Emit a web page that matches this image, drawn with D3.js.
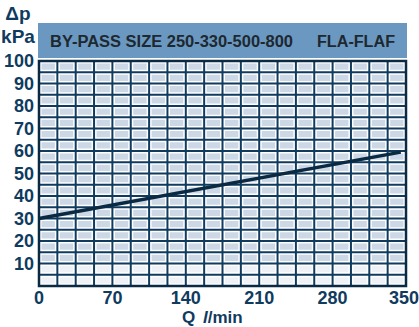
<!DOCTYPE html>
<html><head><meta charset="utf-8">
<script src="https://cdn.jsdelivr.net/npm/d3@7"></script>
<style>body{margin:0;background:#fff}svg{display:block}</style>
</head><body>
<script>
const xTicks = [0, 70, 140, 210, 280, 350];
const yTicks = [10, 20, 30, 40, 50, 60, 70, 80, 90, 100];
const lineQ = [0, 345];
const lineDp = [30, 59.5];
const title = "BY-PASS SIZE 250-330-500-800";
const model = "FLA-FLAF";

const W = 419, H = 327;
const m = {l: 39, r: 13, t: 61, b: 41};
const svg = d3.select("body").append("svg").attr("width", W).attr("height", H);
const x = d3.scaleLinear().domain([0, 350]).range([m.l, W - m.r]);
const y = d3.scaleLinear().domain([0, 100]).range([H - m.b, m.t]);
const font = "'Liberation Sans Narrow','Liberation Sans',Arial,sans-serif";
const navy = "#0f3b5f";

// header band
svg.append("rect").attr("x", 38).attr("y", 23).attr("width", 369).attr("height", 35).attr("fill", "#6b98c0");
svg.append("text").attr("x", 50).attr("y", 47).text(title)
  .attr("textLength", 243).attr("lengthAdjust", "spacingAndGlyphs")
  .attr("font-family", "'Liberation Sans',Arial,sans-serif").attr("font-weight", "bold").attr("font-size", 16).attr("fill", "#1e2830");
svg.append("text").attr("x", 317).attr("y", 47).text(model)
  .attr("textLength", 78).attr("lengthAdjust", "spacingAndGlyphs")
  .attr("font-family", "'Liberation Sans',Arial,sans-serif").attr("font-weight", "bold").attr("font-size", 16).attr("fill", "#1e2830");

// grid cells
const xs = d3.range(0, 350, 17.5), ys = d3.range(0, 100, 5);
const cells = [];
xs.forEach(a => ys.forEach(b => cells.push([a, b])));
svg.append("g").selectAll("rect").data(cells).join("rect")
  .attr("x", d => x(d[0]) + 2.5).attr("y", d => y(d[1] + 5) + 2.5)
  .attr("width", d => x(d[0] + 17.5) - x(d[0]) - 5).attr("height", d => y(d[1]) - y(d[1] + 5) - 5)
  .attr("fill", d => d[1] < 10 ? "#eef2f7" : "#cdd8e6");

// grid lines
const g = svg.append("g");
g.selectAll(".v").data(d3.range(0, 350.1, 17.5)).join("line")
  .attr("x1", d => x(d)).attr("x2", d => x(d)).attr("y1", y(100)).attr("y2", y(0))
  .attr("stroke", navy).attr("stroke-width", 2);
g.selectAll(".h").data(d3.range(0, 100.1, 5)).join("line")
  .attr("y1", d => y(d)).attr("y2", d => y(d)).attr("x1", x(0)).attr("x2", x(350))
  .attr("stroke", navy).attr("stroke-width", 2);
svg.append("rect").attr("x", x(0)).attr("y", y(100)).attr("width", x(350) - x(0)).attr("height", y(0) - y(100))
  .attr("fill", "none").attr("stroke", "#0a2a44").attr("stroke-width", 2.5);

// axes labels
svg.append("g").selectAll("text").data(yTicks).join("text")
  .attr("x", 34).attr("y", d => y(d) + 6).attr("text-anchor", "end").text(d => d)
  .attr("font-family", font).attr("font-weight", "bold").attr("font-size", 18).attr("fill", navy);
svg.append("g").selectAll("text").data(xTicks).join("text")
  .attr("x", d => Math.min(x(d), 404)).attr("y", 304).attr("text-anchor", "middle").text(d => d)
  .attr("font-family", font).attr("font-weight", "bold").attr("font-size", 18).attr("fill", navy);

svg.append("text").attr("x", 18).attr("y", 20).attr("text-anchor", "middle").text("Δp")
  .attr("font-family", font).attr("font-weight", "bold").attr("font-size", 19).attr("fill", navy);
svg.append("text").attr("x", 18).attr("y", 43).attr("text-anchor", "middle").text("kPa")
  .attr("font-family", font).attr("font-weight", "bold").attr("font-size", 19).attr("fill", navy);

const ql = svg.append("text").attr("x", 182).attr("y", 323)
  .attr("font-family", font).attr("font-weight", "bold").attr("font-size", 17).attr("fill", navy);
ql.append("tspan").text("Q");
ql.append("tspan").attr("x", 203).attr("font-style", "italic").text("l");
ql.append("tspan").text("/min");

// curve
const pts = lineQ.map((q, i) => [q, lineDp[i]]);
svg.append("path").datum(pts)
  .attr("d", d3.line().x(d => x(d[0])).y(d => y(d[1])))
  .attr("fill", "none").attr("stroke", "#0a2a44").attr("stroke-width", 3.5);
</script>
</body></html>
